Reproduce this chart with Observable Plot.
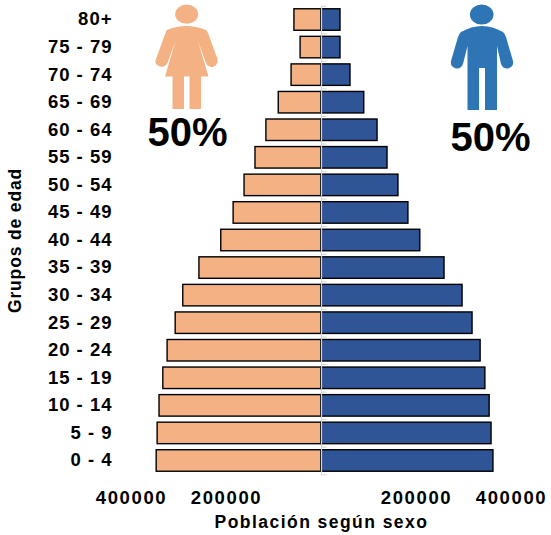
<!DOCTYPE html>
<html>
<head>
<meta charset="utf-8">
<script src="https://cdn.jsdelivr.net/npm/d3@7"></script>
<script src="https://cdn.jsdelivr.net/npm/@observablehq/plot@0.6"></script>
<style>
html,body{margin:0;padding:0;background:#fff}
#wrap{position:relative;width:551px;height:535px;overflow:hidden}
#wrap svg{position:absolute;left:0;top:0}
#wrap text{font-family:"Liberation Sans",Arial,sans-serif;font-weight:700;fill:#000}
.yt text{font-size:18.5px;letter-spacing:1px}
.xt text{font-size:18.5px;letter-spacing:1.6px}
.xl text{letter-spacing:1.45px}
.yl text{letter-spacing:.85px}
</style>
</head>
<body>
<div id="wrap"></div>
<script>
const groups = ["80+","75 - 79","70 - 74","65 - 69","60 - 64","55 - 59","50 - 54","45 - 49","40 - 44","35 - 39","30 - 34","25 - 29","20 - 24","15 - 19","10 - 14","5 - 9","0 - 4"];
const mujeres = [57000,44000,63000,90000,116000,139000,162000,185000,211000,257000,291000,307000,324000,333000,341000,345000,347000];
const hombres = [40000,40000,61000,90000,118000,139000,162000,183000,208000,259000,297000,318000,335000,345000,354000,358000,362000];
const xTicks = [-400000,-200000,200000,400000];
const pctMujeres = "50%";
const pctHombres = "50%";
const xTitle = "Población según sexo";
const yTitle = "Grupos de edad";

const mujeresRows = groups.map((g,i)=>({g,v:-mujeres[i]}));
const hombresRows = groups.map((g,i)=>({g,v:hombres[i]}));
const step = 27.56;

const chart = Plot.plot({
  width:551,height:535,
  marginLeft:131,marginRight:40,marginTop:2.7,marginBottom:57.7,
  x:{domain:[-400000,400000]},
  y:{domain:groups,type:"band",padding:0.22,round:false},
  marks:[
    Plot.barX(mujeresRows,{x1:0,x2:"v",y:"g",fill:"#F4B183",stroke:"#000",strokeWidth:1.4}),
    Plot.barX(hombresRows,{x1:0,x2:"v",y:"g",fill:"#2F5597",stroke:"#000",strokeWidth:1.4}),
    Plot.ruleX([0],{stroke:"#d4d4d4",strokeWidth:1.2,insetTop:3,insetBottom:3}),
    Plot.ruleY(groups,{y:d=>d,x1:0,x2:12000,dy:-step/2,stroke:"#d4d4d4"}),
    Plot.ruleY(groups.slice(-1),{y:d=>d,x1:0,x2:12000,dy:step/2,stroke:"#d4d4d4"}),
    Plot.axisY({tickSize:0,tickPadding:19,dy:-0.5,label:null,className:"yt"}),
    Plot.axisX({ticks:xTicks,tickSize:0,tickPadding:13,tickFormat:d=>String(Math.abs(d)),label:null,className:"xt"}),
    Plot.text([xTitle],{text:d=>d,frameAnchor:"bottom",dy:45,fontSize:17.5,lineAnchor:"middle",className:"xl"}),
    Plot.text([yTitle],{text:d=>d,frameAnchor:"left",dx:-116,dy:0,rotate:-90,fontSize:17.5,textAnchor:"middle",lineAnchor:"middle",className:"yl"}),
    Plot.text([pctMujeres],{text:d=>d,frameAnchor:"top-left",dx:187-131,dy:133-2.7,fontSize:40,textAnchor:"middle",lineAnchor:"middle"}),
    Plot.text([pctHombres],{text:d=>d,frameAnchor:"top-left",dx:490-131,dy:138-2.7,fontSize:40,textAnchor:"middle",lineAnchor:"middle"})
  ]
});
const wrap = document.getElementById("wrap");
wrap.appendChild(chart);

const icons = document.createElementNS("http://www.w3.org/2000/svg","svg");
icons.setAttribute("width",551);icons.setAttribute("height",535);
icons.innerHTML = `
<g fill="#F4B183">
  <ellipse cx="186.7" cy="14.2" rx="11.5" ry="9.6"/>
  <path d="M167 30 Q186 22 206 30 Q207 31 208 33 L217.5 59 Q218.5 65 213 67 Q208 67.5 206 63 L198 41 L208.5 76.5 L201 76.5 L201 109 L189.5 109 L189.5 76.5 L184 76.5 L184 109 L172.5 109 L172.5 76.5 L165 76.5 L175.5 41 L167.5 63 Q165 67.5 160 66.5 Q154 64.5 156 59 L165.5 33 Q166 31 167 30 Z"/>
</g>
<g fill="#2E75B6">
  <ellipse cx="481.7" cy="14.6" rx="11.8" ry="10"/>
  <path d="M461 32 Q482 20 503 32 Q505 34 506 37 L513 61 Q514 67 508 68.5 Q503 69 501 64 L497 46 L497 110 L485 110 L485 68 L479 68 L479 110 L467.5 110 L467.5 46 L463 64 Q461 69 456 68.5 Q450 67 451 61 L458 37 Q459 34 461 32 Z"/>
</g>`;
wrap.appendChild(icons);
</script>
</body>
</html>
